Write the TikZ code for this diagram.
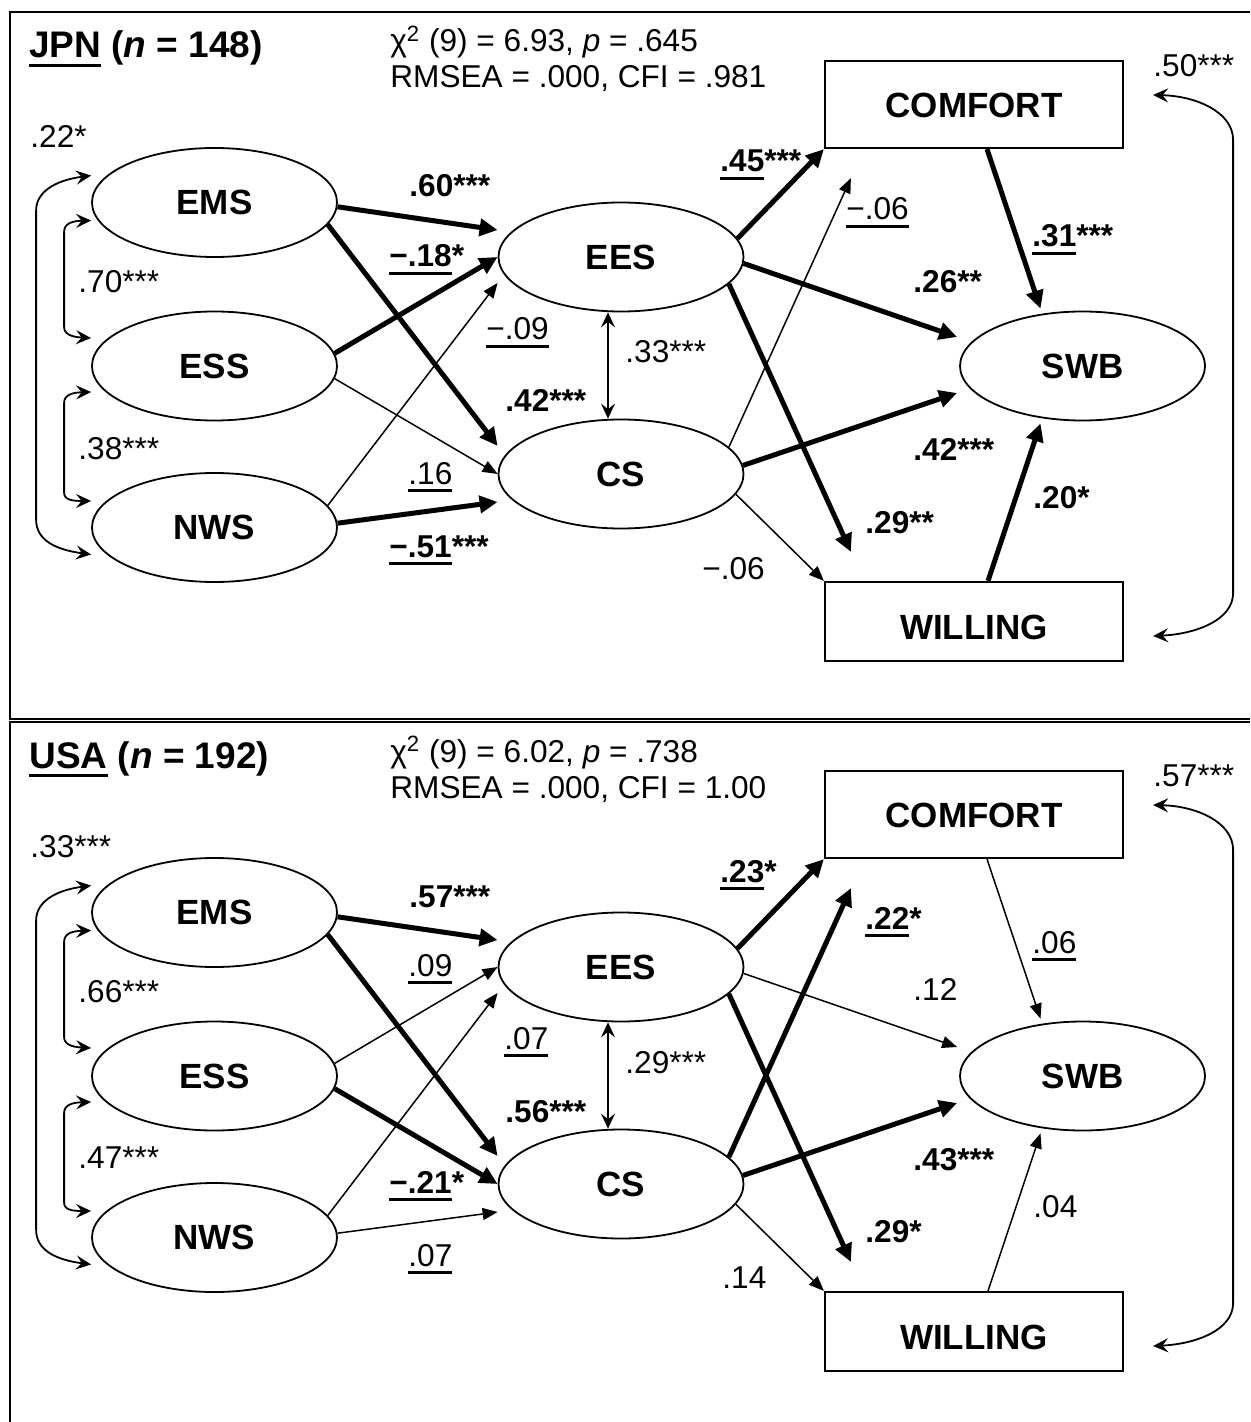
\documentclass[tikz,border=0pt]{standalone}
\usepackage{fontspec}
\setmainfont{Liberation Sans}
\usetikzlibrary{arrows.meta,calc,shapes.geometric}
\newcommand\ulx[1]{\setbox0\hbox{#1}\leavevmode\rlap{\rule[-0.25em]{\wd0}{0.09em}}\box0\relax}
\newcommand\nf{\fontsize{17.5pt}{21pt}\selectfont\bfseries}
\newcommand\lf{\fontsize{15.8pt}{19pt}\selectfont}
\newcommand\tf{\fontsize{18.5pt}{22pt}\selectfont\bfseries}
\tikzset{
  lat/.style={ellipse, draw, line width=0.9pt, minimum width=122.5pt, minimum height=54.5pt, inner sep=0pt, font=\nf},
  obs/.style={rectangle, draw, line width=1.1pt, minimum width=149pt, inner sep=0pt},
  obstext/.style={inner sep=0pt, font=\nf},
  pthick/.style={line width=2.5pt, -{Triangle[length=9pt,width=8.5pt]}},
  pthin/.style={line width=0.75pt, -{Triangle[length=7.5pt,width=6pt]}},
  covar/.style={line width=0.9pt, {Stealth[length=7.5pt,width=7pt,inset=2.8pt]}-{Stealth[length=7.5pt,width=7pt,inset=2.8pt]}},
  lbl/.style={anchor=base west, inner sep=0pt, font=\lf},
  ttl/.style={anchor=base west, inner sep=0pt, font=\tf},
  frame/.style={line width=1.2pt}
}
\newcommand\lb[4]{\node[lbl] (#1) at (#2,#3) {#4};}
% nodes and fixed covariances of one panel: #1 prefix, #2 vertical offset
\newcommand\mkpanel[2]{%
  \node[lat] (#1ems) at (214.5,202.5+#2) {EMS};
  \node[lat] (#1ess) at (214.5,366+#2) {ESS};
  \node[lat] (#1nws) at (214.5,527.5+#2) {NWS};
  \node[lat] (#1ees) at (621,257+#2) {EES};
  \node[lat] (#1cs) at (621,474+#2) {CS};
  \node[lat] (#1swb) at (1082.5,366+#2) {SWB};
  \node[obs, minimum height=43.5pt] (#1comf) at (974,104.5+#2) {};
  \node[obstext] (#1comft) at (974,105.5+#2) {COMFORT};
  \node[obs, minimum height=39.5pt] (#1will) at (974,621.5+#2) {};
  \node[obstext] (#1willt) at (974,627+#2) {WILLING};
  % covariances
  \draw[covar] ($(#1ems.west)+(0,-27)$) .. controls ($(#1ems.west)+(-37,-22)$) and ($(#1ems.west)+(-55,-10)$) .. ($(#1ems.west)+(-55,8)$)
     -- ($(#1nws.west)+(-55,-8)$) .. controls ($(#1nws.west)+(-55,12)$) and ($(#1nws.west)+(-37,22)$) .. ($(#1nws.west)+(0,27)$);
  \draw[covar] ($(#1ems.west)+(0,18)$) .. controls ($(#1ems.west)+(-20,18.5)$) and ($(#1ems.west)+(-27,21.5)$) .. ($(#1ems.west)+(-27,29.5)$)
     -- ($(#1ess.west)+(-27,-39)$) .. controls ($(#1ess.west)+(-27,-32)$) and ($(#1ess.west)+(-20,-29)$) .. ($(#1ess.west)+(0,-28)$);
  \draw[covar] ($(#1ess.west)+(0,26)$) .. controls ($(#1ess.west)+(-20,26.5)$) and ($(#1ess.west)+(-27,29.5)$) .. ($(#1ess.west)+(-27,37)$)
     -- ($(#1nws.west)+(-27,-35)$) .. controls ($(#1nws.west)+(-27,-28)$) and ($(#1nws.west)+(-20,-26.5)$) .. ($(#1nws.west)+(0,-26.5)$);
  \draw[covar] ($(#1comf.east)+(29,-9.5)$) .. controls ($(#1comf.east)+(72,-8.5)$) and ($(#1comf.east)+(109,7.5)$) .. ($(#1comf.east)+(109,35.5)$)
     -- ($(#1will.east)+(109,-28.5)$) .. controls ($(#1will.east)+(109,-1.5)$) and ($(#1will.east)+(72,12.5)$) .. ($(#1will.east)+(29,14.5)$);
  \draw[covar] ($(#1ees.south)+(-13,0)$) -- ($(#1cs.north)+(-13,0)$);
}
\begin{document}
\begin{tikzpicture}[x=0.5pt,y=-0.5pt]
\useasboundingbox (0,0) rectangle (1250,1422);
\draw[frame] (1250,12) -- (10,12) -- (10,719) -- (1250,719);
\draw[frame] (1250,722) -- (10,722) -- (10,1422);

% ================= JPN =================
\mkpanel{j}{0}
\node[ttl] (jtitle) at (29,58) {\ulx{JPN} (\textit{n} = 148)};
\node[lbl] (jfit1) at (390,52) {χ\textsuperscript{2} (9) = 6.93, \textit{p} = .645};
\node[lbl] (jfit2) at (390,88) {RMSEA = .000, CFI = .981};

\draw[pthick] (jems.-2) -- ($(jees.west)+(0,-27)$);
\draw[pthick] (jems.-11.6) -- ($(jcs.west)+(0,-28)$);
\draw[pthick] (jess.6.7) -- (jees.west);
\draw[pthin] (jess.-6.3) -- (jcs.west);
\draw[pthin] (jnws.11.1) -- ($(jees.west)+(0,26)$);
\draw[pthick] (jnws.2.3) -- ($(jcs.west)+(0,28)$);
\draw[pthick] (jees.9.8) -- (jcomf.south west);
\draw[pthin] (jcs.14.2) -- ($(jcomf.south west)+(27,29)$);
\draw[pthick] (jees.-3.8) -- ($(jswb.west)+(-2,-29)$);
\draw[pthick] (jees.-14.7) -- ($(jwill.north west)+(27,-29)$);
\draw[pthick] (jcs.4.2) -- ($(jswb.west)+(-2,27)$);
\draw[pthin] (jcs.-10.3) -- (jwill.north west);
\draw[pthick] ($(jcomf.south)+(13,0)$) -- ($(jswb.north)+(-42,-2)$);
\draw[pthick] ($(jwill.north)+(14,0)$) -- ($(jswb.south)+(-42,2)$);

\lb{jl22}{30}{148}{.22*}
\lb{jl70}{78}{293}{.70***}
\lb{jl38}{78}{459}{.38***}
\lb{jl60}{409}{197}{\textbf{.60***}}
\lb{jl18}{389}{267}{\textbf{\ulx{−.18}*}}
\lb{jl09}{486}{340}{\ulx{−.09}}
\lb{jl42a}{505}{412}{\textbf{.42***}}
\lb{jl16}{408}{484}{\ulx{.16}}
\lb{jl51}{389}{557}{\textbf{\ulx{−.51}***}}
\lb{jl33}{625}{363}{.33***}
\lb{jl45}{720}{172}{\textbf{\ulx{.45}***}}
\lb{jl06a}{846}{220}{\ulx{−.06}}
\lb{jl26}{913}{293}{\textbf{.26**}}
\lb{jl31}{1032}{247}{\textbf{\ulx{.31}***}}
\lb{jl50}{1153}{77}{.50***}
\lb{jl42b}{913}{460}{\textbf{.42***}}
\lb{jl29}{865}{533}{\textbf{.29**}}
\lb{jl20}{1033}{508}{\textbf{.20*}}
\lb{jl06b}{702}{579}{−.06}

% ================= USA =================
\mkpanel{u}{710}
\node[ttl] (utitle) at (29,768) {\ulx{USA} (\textit{n} = 192)};
\node[lbl] (ufit1) at (390,762) {χ\textsuperscript{2} (9) = 6.02, \textit{p} = .738};
\node[lbl] (ufit2) at (390,798) {RMSEA = .000, CFI = 1.00};

\draw[pthick] (uems.-2) -- ($(uees.west)+(0,-27)$);
\draw[pthick] (uems.-11.6) -- ($(ucs.west)+(0,-28)$);
\draw[pthin] (uess.6.7) -- (uees.west);
\draw[pthick] (uess.-6.3) -- (ucs.west);
\draw[pthin] (unws.11.1) -- ($(uees.west)+(0,26)$);
\draw[pthin] (unws.2.3) -- ($(ucs.west)+(0,28)$);
\draw[pthick] (uees.9.8) -- (ucomf.south west);
\draw[pthick] (ucs.14.2) -- ($(ucomf.south west)+(27,29)$);
\draw[pthin] (uees.-3.8) -- ($(uswb.west)+(-2,-29)$);
\draw[pthick] (uees.-14.7) -- ($(uwill.north west)+(27,-29)$);
\draw[pthick] (ucs.4.2) -- ($(uswb.west)+(-2,27)$);
\draw[pthin] (ucs.-10.3) -- (uwill.north west);
\draw[pthin] ($(ucomf.south)+(13,0)$) -- ($(uswb.north)+(-42,-2)$);
\draw[pthin] ($(uwill.north)+(14,0)$) -- ($(uswb.south)+(-42,2)$);

\lb{ul33}{30}{857}{.33***}
\lb{ul66}{78}{1002}{.66***}
\lb{ul47}{78}{1168}{.47***}
\lb{ul57}{409}{907}{\textbf{.57***}}
\lb{ul09}{408}{976}{\ulx{.09}}
\lb{ul07a}{504}{1049}{\ulx{.07}}
\lb{ul56}{505}{1122}{\textbf{.56***}}
\lb{ul21}{389}{1193}{\textbf{\ulx{−.21}*}}
\lb{ul07b}{408}{1266}{\ulx{.07}}
\lb{ul29a}{625}{1073}{.29***}
\lb{ul23}{720}{882}{\textbf{\ulx{.23}*}}
\lb{ul22}{865}{929}{\textbf{\ulx{.22}*}}
\lb{ul12}{913}{1000}{.12}
\lb{ul06}{1032}{953}{\ulx{.06}}
\lb{ul57b}{1153}{786}{.57***}
\lb{ul43}{913}{1170}{\textbf{.43***}}
\lb{ul29b}{865}{1242}{\textbf{.29*}}
\lb{ul04}{1033}{1217}{.04}
\lb{ul14}{722}{1288}{.14}
\end{tikzpicture}
\end{document}
